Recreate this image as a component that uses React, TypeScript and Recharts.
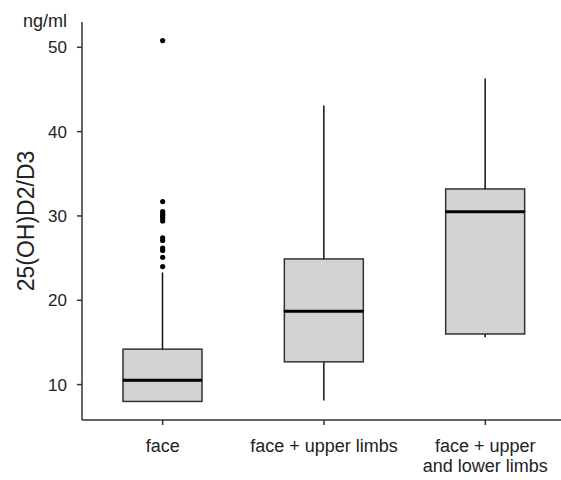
import { ComposedChart, Bar, Scatter, XAxis, YAxis } from 'recharts'

const groups = ['face', 'face + upper limbs', 'face + upper\nand lower limbs']
const minValues = [8.0, 8.1, 15.6]
const q1Values = [8.0, 12.7, 16.0]
const medianValues = [10.5, 18.7, 30.5]
const q3Values = [14.2, 24.9, 33.2]
const maxValues = [23.3, 43.1, 46.3]
const outlierValues = [
  [50.8, 31.7, 30.5, 30.2, 30.0, 29.7, 29.4, 27.4, 27.1, 26.2, 25.9, 25.1, 24.0],
  [],
  [],
]
const yTicks = [10, 20, 30, 40, 50]

const FONT = '"Liberation Sans", Arial, sans-serif'
const INK = '#222'

const data = groups.map((name, i) => ({
  name,
  base: minValues[i],
  lowWhisker: q1Values[i] - minValues[i],
  lowBox: medianValues[i] - q1Values[i],
  highBox: q3Values[i] - medianValues[i],
  highWhisker: maxValues[i] - q3Values[i],
  outliers: outlierValues[i],
}))

const maxOutliers = Math.max(...outlierValues.map((o) => o.length))

const Empty = () => <g />

const Whisker = (props: any) => {
  const { x, y, width, height } = props
  if (!height) return <g />
  const cx = x + width / 2
  return <line x1={cx} x2={cx} y1={y} y2={y + height} stroke="#111" strokeWidth={1.5} />
}

const LowBox = (props: any) => {
  const { x, y, width, height } = props
  return <rect x={x} y={y} width={width} height={height} fill="#d3d3d3" stroke="#333" strokeWidth={1.5} />
}

const HighBox = (props: any) => {
  const { x, y, width, height } = props
  return (
    <g>
      <rect x={x} y={y} width={width} height={height} fill="#d3d3d3" stroke="#333" strokeWidth={1.5} />
      <line x1={x} x2={x + width} y1={y + height} y2={y + height} stroke="#000" strokeWidth={3} />
    </g>
  )
}

const OutlierDot = (props: any) => {
  const { cx, cy } = props
  if (cx == null || cy == null || !isFinite(cx) || !isFinite(cy)) return <g />
  return <circle cx={cx} cy={cy} r={2.6} fill="#000" />
}

const CategoryTick = (props: any) => {
  const { x, y, payload } = props
  const lines = String(payload.value).split('\n')
  return (
    <text x={x} y={y} textAnchor="middle" fill={INK} fontSize={18} fontFamily={FONT}>
      {lines.map((line, i) => (
        <tspan key={i} x={x} dy={i === 0 ? 25 : 20}>
          {line}
        </tspan>
      ))}
    </text>
  )
}

const YTitle = (props: any) => {
  const { viewBox } = props
  const cx = viewBox.x + 26
  const cy = viewBox.y + viewBox.height / 2
  return (
    <g fontFamily={FONT} fill={INK}>
      <text
        x={cx}
        y={cy}
        textAnchor="middle"
        dominantBaseline="central"
        fontSize={23}
        transform={`rotate(-90, ${cx}, ${cy})`}
      >
        25(OH)D2/D3
      </text>
      <text x={viewBox.x + viewBox.width - 15} y={viewBox.y + 5} textAnchor="end" fontSize={18}>
        ng/ml
      </text>
    </g>
  )
}

export default function App() {
  return (
    <div style={{ position: 'absolute', left: 0, top: 0, width: 561, height: 480, background: '#fff', overflow: 'hidden' }}>
      <ComposedChart
        width={561}
        height={480}
        data={data}
        margin={{ top: 22, right: -5, bottom: 0, left: 0 }}
        barCategoryGap={0}
      >
        <XAxis
          dataKey="name"
          height={60}
          tick={<CategoryTick />}
          tickSize={5}
          tickMargin={2}
          axisLine={{ stroke: '#333', strokeWidth: 1.5 }}
          tickLine={{ stroke: '#333', strokeWidth: 1.5 }}
          interval={0}
        />
        <YAxis
          width={82}
          type="number"
          domain={[5.8, 53]}
          allowDataOverflow
          ticks={yTicks}
          tickSize={5}
          tickMargin={10}
          axisLine={{ stroke: '#333', strokeWidth: 1.5 }}
          tickLine={{ stroke: '#333', strokeWidth: 1.5 }}
          tick={{ fill: INK, fontSize: 17, fontFamily: FONT }}
          label={<YTitle />}
        />
        <Bar dataKey="base" stackId="box" barSize={79} shape={<Empty />} isAnimationActive={false} />
        <Bar dataKey="lowWhisker" stackId="box" barSize={79} shape={<Whisker />} isAnimationActive={false} />
        <Bar dataKey="lowBox" stackId="box" barSize={79} shape={<LowBox />} isAnimationActive={false} />
        <Bar dataKey="highBox" stackId="box" barSize={79} shape={<HighBox />} isAnimationActive={false} />
        <Bar dataKey="highWhisker" stackId="box" barSize={79} shape={<Whisker />} isAnimationActive={false} />
        {Array.from({ length: maxOutliers }).map((_, k) => (
          <Scatter
            key={k}
            dataKey={(d: any) => d.outliers[k]}
            shape={<OutlierDot />}
            isAnimationActive={false}
          />
        ))}
      </ComposedChart>
    </div>
  )
}
